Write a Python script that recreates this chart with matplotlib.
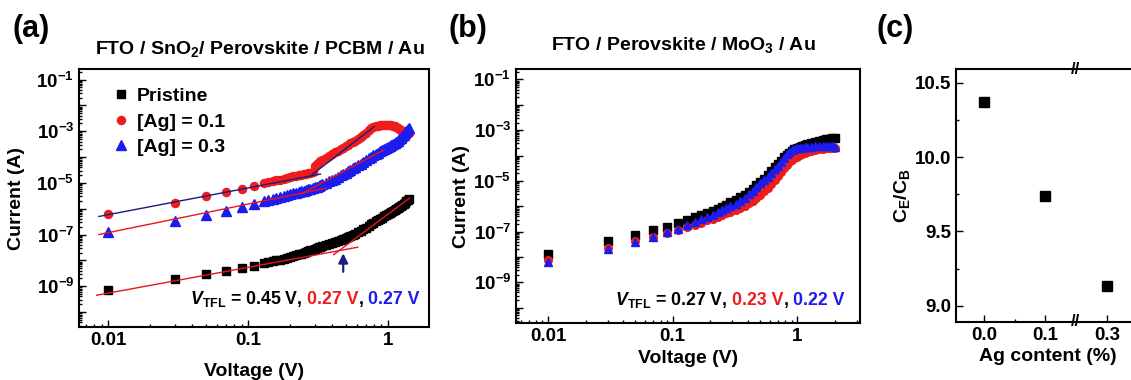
import matplotlib
matplotlib.use('Agg')
import matplotlib.pyplot as plt
import numpy as np
from matplotlib.ticker import LogLocator, NullFormatter, FixedLocator, MultipleLocator

plt.rcParams['font.family'] = ['Liberation Sans', 'DejaVu Sans']
plt.rcParams['font.weight'] = 'bold'
plt.rcParams['mathtext.fontset'] = 'custom'
plt.rcParams['mathtext.rm'] = 'Liberation Sans'
plt.rcParams['mathtext.bf'] = 'Liberation Sans:bold'
plt.rcParams['mathtext.it'] = 'Liberation Sans:italic'
plt.rcParams['mathtext.bfit'] = 'Liberation Sans:bold:italic'

# ---------------- data ----------------
# (a) FTO / SnO2 / Perovskite / PCBM / Au, log10 of current (A)
volt_a = [0.01, 0.03, 0.05, 0.07, 0.09, 0.11, 0.13,
          0.14, 0.15, 0.16, 0.17, 0.18, 0.19, 0.20, 0.21, 0.22, 0.23, 0.24,
          0.25, 0.26, 0.27, 0.28, 0.29, 0.30, 0.31, 0.32, 0.33, 0.34,
          0.36, 0.38, 0.40, 0.42, 0.44, 0.46, 0.48, 0.50, 0.52, 0.54, 0.56, 0.58,
          0.61, 0.64, 0.67, 0.70, 0.73, 0.76, 0.79, 0.82, 0.85, 0.88, 0.91, 0.94,
          0.97, 1.00, 1.03, 1.06, 1.09, 1.12, 1.15, 1.18, 1.21, 1.24, 1.27, 1.30,
          1.33, 1.36, 1.39, 1.42]
pristine_a = [-9.15, -8.73, -8.54, -8.40, -8.30, -8.20, -8.11,
              -8.07, -8.04, -8.00, -7.97, -7.93, -7.90, -7.87, -7.83, -7.80, -7.77, -7.74,
              -7.70, -7.67, -7.64, -7.61, -7.58, -7.55, -7.52, -7.50, -7.47, -7.45,
              -7.41, -7.37, -7.33, -7.29, -7.25, -7.21, -7.17, -7.13, -7.09, -7.05, -7.01, -6.97,
              -6.91, -6.85, -6.79, -6.73, -6.66, -6.60, -6.54, -6.49, -6.44, -6.39, -6.35, -6.30,
              -6.26, -6.22, -6.18, -6.14, -6.10, -6.06, -6.02, -5.98, -5.94, -5.90, -5.86, -5.81,
              -5.77, -5.72, -5.67, -5.62]
ag01_a = [-6.20, -5.77, -5.52, -5.34, -5.23, -5.11, -5.02,
          -4.97, -4.93, -4.90, -4.87, -4.84, -4.81, -4.78, -4.75, -4.73, -4.71, -4.69,
          -4.67, -4.65, -4.63, -4.61, -4.59, -4.35, -4.28, -4.22, -4.17, -4.12,
          -4.04, -3.96, -3.89, -3.82, -3.76, -3.70, -3.64, -3.58, -3.52, -3.47, -3.42, -3.37,
          -3.30, -3.22, -3.14, -3.05, -2.96, -2.88, -2.82, -2.79, -2.78, -2.77, -2.76, -2.76,
          -2.75, -2.75, -2.76, -2.77, -2.79, -2.81, -2.84, -2.87, -2.91, -2.95, -2.99, -3.02,
          -3.04, -3.05, -3.05, -3.05]
ag03_a = [-6.90, -6.46, -6.26, -6.10, -5.93, -5.82, -5.72,
          -5.67, -5.63, -5.59, -5.55, -5.51, -5.47, -5.44, -5.41, -5.38, -5.35, -5.32,
          -5.30, -5.27, -5.25, -5.22, -5.20, -5.17, -5.14, -5.11, -5.08, -5.05,
          -5.00, -4.94, -4.89, -4.83, -4.77, -4.71, -4.65, -4.60, -4.54, -4.49, -4.44, -4.39,
          -4.32, -4.25, -4.18, -4.11, -4.04, -3.98, -3.93, -3.88, -3.83, -3.78, -3.74, -3.69,
          -3.65, -3.61, -3.57, -3.53, -3.49, -3.45, -3.41, -3.36, -3.31, -3.25, -3.19, -3.13,
          -3.07, -3.00, -2.93, -2.86]
# fitted lines: (v_start, v_end, log_i_start, log_i_end, colour)
fits_a = [(0.0083, 0.61, -9.35, -7.49, '#e8141e'),
          (0.41, 1.43, -7.78, -5.59, '#e8141e'),
          (0.0086, 0.33, -6.30, -4.66, '#1c1c80'),
          (0.277, 0.80, -4.75, -2.82, '#1c1c80'),
          (0.0086, 0.365, -7.00, -5.20, '#e8141e'),
          (0.24, 0.94, -5.43, -3.72, '#e8141e')]
vtfl_arrow_a = (0.48, -8.55, -7.62)

# (b) FTO / Perovskite / MoO3 / Au
volt_b = [0.01, 0.03, 0.05, 0.07, 0.09, 0.11, 0.13, 0.15, 0.17, 0.19, 0.21, 0.23,
          0.25, 0.27, 0.29, 0.32, 0.35, 0.38, 0.41, 0.44, 0.47, 0.50, 0.54, 0.58,
          0.62, 0.66, 0.70, 0.74, 0.78, 0.82, 0.86, 0.90, 0.95, 1.00, 1.05, 1.10,
          1.15, 1.20, 1.30, 1.40, 1.50, 1.60, 1.70, 1.80, 1.90, 2.00]
pristine_b = [-7.88, -7.37, -7.13, -6.95, -6.80, -6.65, -6.54, -6.44, -6.35, -6.26,
              -6.17, -6.09, -6.01, -5.93, -5.85, -5.75, -5.65, -5.54, -5.42, -5.31,
              -5.18, -5.06, -4.92, -4.76, -4.60, -4.46, -4.33, -4.20, -4.07, -3.97,
              -3.89, -3.82, -3.75, -3.70, -3.66, -3.62, -3.59, -3.56, -3.50, -3.45,
              -3.41, -3.38, -3.35, -3.33, -3.31, -3.30]
ag01_b = [-8.13, -7.65, -7.36, -7.20, -7.05, -6.94, -6.80, -6.72, -6.64, -6.56,
          -6.49, -6.42, -6.35, -6.28, -6.22, -6.14, -6.06, -5.97, -5.88, -5.78,
          -5.68, -5.56, -5.41, -5.27, -5.12, -4.96, -4.79, -4.63, -4.50, -4.38,
          -4.27, -4.19, -4.11, -4.05, -3.99, -3.94, -3.90, -3.87, -3.82, -3.78,
          -3.75, -3.73, -3.71, -3.70, -3.69, -3.69]
ag03_b = [-8.19, -7.69, -7.40, -7.22, -7.00, -6.88, -6.72, -6.62, -6.52, -6.42,
          -6.33, -6.24, -6.16, -6.08, -6.00, -5.90, -5.78, -5.66, -5.52, -5.38,
          -5.24, -5.10, -4.95, -4.84, -4.69, -4.55, -4.40, -4.24, -4.08, -3.95,
          -3.85, -3.78, -3.73, -3.71, -3.70, -3.69, -3.68, -3.68, -3.66, -3.64,
          -3.63, -3.62, -3.62, -3.63, -3.64, -3.65]

# (c) CE/CB ratio
ag_content = ['0.0', '0.1', '0.3']
ce_cb = [10.37, 9.74, 9.13]

legend_labels = ['Pristine', '[Ag] = 0.1', '[Ag] = 0.3']
vtfl_a = ['0.45 V', '0.27 V', '0.27 V']
vtfl_b = ['0.27 V', '0.23 V', '0.22 V']

RED = '#ee1c1c'
BLUE = '#1c1cee'
W, H = 1131, 380

fig = plt.figure(figsize=(W / 100, H / 100), dpi=100)


def axes_px(left, top, right, bottom):
    return fig.add_axes([left / W, 1 - bottom / H, (right - left) / W, (bottom - top) / H])


def style_axes(ax):
    for s in ax.spines.values():
        s.set_linewidth(1.5)
    ax.tick_params(which='both', direction='in', top=False, right=False,
                   labelsize=13.5, width=1.0)
    ax.tick_params(which='major', length=5)
    ax.tick_params(which='minor', length=2.5)


def iv_axes(ax, ylo, yhi, xlo, xhi):
    ax.set_xscale('log')
    ax.set_yscale('log')
    ax.set_xlim(xlo, xhi)
    ax.set_ylim(10 ** ylo, 10 ** yhi)
    ax.xaxis.set_major_locator(FixedLocator([0.01, 0.1, 1]))
    ax.set_xticklabels(['0.01', '0.1', '1'])
    ax.xaxis.set_minor_locator(LogLocator(base=10, subs=np.arange(2, 10), numticks=50))
    ax.xaxis.set_minor_formatter(NullFormatter())
    decades = list(range(-10, 0))
    ax.yaxis.set_major_locator(FixedLocator([10.0 ** k for k in decades]))
    ax.set_yticklabels([r'$\mathbf{10^{%d}}$' % k if k % 2 else '' for k in decades])
    ax.yaxis.set_minor_locator(LogLocator(base=10, subs=np.arange(2, 10), numticks=50))
    ax.yaxis.set_minor_formatter(NullFormatter())
    style_axes(ax)


def draw_series(ax, volt, ys, sizes):
    marks = [('s', 'black'), ('o', RED), ('^', BLUE)]
    for (m, c), ms, y, lab in zip(marks, sizes, ys, legend_labels):
        ax.plot(volt, 10 ** np.array(y), m, color=c, mec=c, ms=ms, ls='none', label=lab)


def colored_text(x_px, y_px, pieces, size=12.8):
    renderer = fig.canvas.get_renderer()
    x = x_px
    for s, c, gap in pieces:
        x += gap
        t = fig.text(x / W, 1 - y_px / H, s, color=c, fontsize=size,
                     fontweight='bold', va='baseline')
        x = t.get_window_extent(renderer).x1


# ---------------- (a) ----------------
ax_a = axes_px(79, 69, 429, 327)
draw_series(ax_a, volt_a, [pristine_a, ag01_a, ag03_a], [5.2, 5.8, 6.5])
for v0, v1, i0, i1, c in fits_a:
    ax_a.plot([v0, v1], [10 ** i0, 10 ** i1], color=c, lw=1.0)
av, ai0, ai1 = vtfl_arrow_a
ax_a.annotate('', xy=(av, 10 ** ai1), xytext=(av, 10 ** ai0),
              arrowprops=dict(arrowstyle='-|>', color='#1c1c80', lw=1.6, mutation_scale=14))
iv_axes(ax_a, -10.58, -0.59, 0.0062, 1.97)
ax_a.set_ylabel('Current (A)', fontsize=14, fontweight='bold')
ax_a.yaxis.set_label_coords(-0.154, 0.5)
ax_a.set_xlabel('Voltage (V)', fontsize=14, fontweight='bold')
ax_a.xaxis.set_label_coords(0.5, -0.14)
ax_a.legend(loc='upper left', bbox_to_anchor=(0.07, 0.958), frameon=False, fontsize=14,
            handletextpad=0.3, labelspacing=0.4, handlelength=1.0, borderaxespad=0)

# ---------------- (b) ----------------
ax_b = axes_px(516, 69, 860, 323)
draw_series(ax_b, volt_b, [pristine_b, ag01_b, ag03_b], [6.0, 5.5, 6.0])
iv_axes(ax_b, -10.6, -0.59, 0.00552, 3.19)
ax_b.set_ylabel('Current (A)', fontsize=14, fontweight='bold')
ax_b.yaxis.set_label_coords(-0.134, 0.5)
ax_b.set_xlabel('Voltage (V)', fontsize=14, fontweight='bold')
ax_b.xaxis.set_label_coords(0.5, -0.106)

# ---------------- (c) ----------------
ax_c = axes_px(956, 69, 1140, 322)
ax_c.plot(range(len(ce_cb)), ce_cb, 's', color='black', ms=7.5, ls='none')
ax_c.set_xlim(-0.455, 2.537)
ax_c.set_ylim(8.89, 10.594)
ax_c.set_xticks(range(len(ag_content)))
ax_c.set_xticklabels(ag_content)
ax_c.xaxis.set_minor_locator(FixedLocator([0.5]))
ax_c.yaxis.set_major_locator(MultipleLocator(0.5))
ax_c.yaxis.set_minor_locator(MultipleLocator(0.25))
ax_c.yaxis.set_major_formatter(matplotlib.ticker.FormatStrFormatter('%.1f'))
style_axes(ax_c)
ax_c.set_ylabel(r'$\mathbf{C_E/C_B}$', fontsize=14)
ax_c.yaxis.set_label_coords(-0.24, 0.5)
ax_c.set_xlabel('Ag content (%)', fontsize=14, fontweight='bold')
ax_c.xaxis.set_label_coords(0.5, -0.103)
for yb in (0, 1):
    ax_c.text(1.48, yb, '//', transform=ax_c.get_xaxis_transform(), ha='center',
              va='center', fontsize=12, fontweight='bold', clip_on=False)

# ---------------- titles, panel letters, V_TFL ----------------
fig.text(260 / W, 1 - 54 / H, r'FTO / SnO$_{\mathbf{2}}$/ Perovskite / PCBM / Au',
         ha='center', va='baseline', fontsize=14, fontweight='bold')
fig.text(683 / W, 1 - 50 / H, r'FTO / Perovskite / MoO$_{\mathbf{3}}$ / Au',
         ha='center', va='baseline', fontsize=14, fontweight='bold')
for lab, xp in (('(a)', 12), ('(b)', 449), ('(c)', 876)):
    fig.text(xp / W, 1 - 37 / H, lab, ha='left', va='baseline', fontsize=22,
             fontweight='bold')

vlab = r'$\mathbfit{V}_{\mathbf{TFL}}$ = '
colored_text(190, 304, [(vlab + vtfl_a[0] + ',', 'black', 0), (vtfl_a[1], RED, 4.5),
                        (',', 'black', 0), (vtfl_a[2], BLUE, 4.5)])
colored_text(615, 305, [(vlab + vtfl_b[0] + ',', 'black', 0), (vtfl_b[1], RED, 4.5),
                        (',', 'black', 0), (vtfl_b[2], BLUE, 4.5)])

fig.savefig('out.png', dpi=100)
